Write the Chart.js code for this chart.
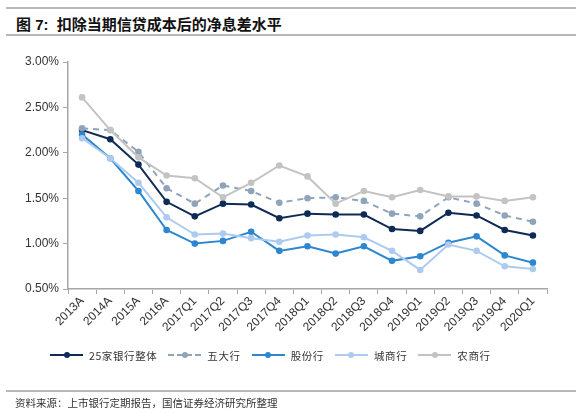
<!DOCTYPE html>
<html>
<head>
<meta charset="utf-8">
<script src="https://cdn.jsdelivr.net/npm/chart.js@4/dist/chart.umd.min.js"></script>
<style>
  html, body { margin: 0; padding: 0; background: #fff; }
  body { width: 581px; height: 413px; position: relative; overflow: hidden;
         font-family: "Liberation Sans", Arial, "Noto Sans CJK SC", sans-serif; color: #222; }
  .rule { position: absolute; left: 6px; width: 570px; height: 2px; background: #b8b8b8; }
  #title { position: absolute; left: 16px; top: 13px; font-size: 15px; font-weight: bold;
           font-family: "Liberation Sans", "Noto Sans CJK SC", sans-serif; color: #111; white-space: nowrap; }
  #wrap { position: absolute; left: 0; top: 0; width: 581px; height: 413px; }
  #legend { position: absolute; left: 50px; top: 346px; height: 18px; display: flex; align-items: center;
            font-family: "Noto Sans CJK SC", sans-serif; font-size: 10.5px; color: #333; white-space: nowrap; }
  .item { display: flex; align-items: center; margin-right: 11px; }
  .mark { position: relative; width: 33px; height: 10px; margin-right: 6px; }
  .mark .ln { position: absolute; left: 0; right: 0; top: 4px; height: 0; border-top-width: 2px; }
  .mark .dot { position: absolute; left: 13.5px; top: 2px; width: 6px; height: 6px; border-radius: 50%; }
  .item span { letter-spacing: 0.6px; }
  #source { position: absolute; left: 15px; top: 395px; font-size: 10.5px; color: #333;
            font-family: "Noto Sans CJK SC", sans-serif; white-space: nowrap; }
</style>
</head>
<body>
<div class="rule" style="top:7px"></div>
<div id="title">图 7:&nbsp; 扣除当期信贷成本后的净息差水平</div>
<div class="rule" style="top:34px"></div>
<div id="wrap"><canvas id="c" width="581" height="413"></canvas></div>
<div id="legend"></div>
<div class="rule" style="top:390px; height:1.5px"></div>
<div id="source">资料来源：上市银行定期报告，国信证券经济研究所整理</div>
<script>
// categories and series (percent)
const categories = ['2013A','2014A','2015A','2016A','2017Q1','2017Q2','2017Q3','2017Q4',
  '2018Q1','2018Q2','2018Q3','2018Q4','2019Q1','2019Q2','2019Q3','2019Q4','2020Q1'];

const allBanks   = [2.25, 2.15, 1.87, 1.46, 1.30, 1.44, 1.43, 1.28, 1.33, 1.32, 1.32, 1.16, 1.14, 1.34, 1.31, 1.15, 1.09];
const bigFive    = [2.27, 2.25, 2.01, 1.61, 1.44, 1.64, 1.58, 1.45, 1.50, 1.51, 1.47, 1.33, 1.30, 1.51, 1.44, 1.31, 1.24];
const jointStock = [2.20, 1.94, 1.58, 1.15, 1.00, 1.03, 1.13, 0.92, 0.97, 0.89, 0.97, 0.81, 0.86, 1.01, 1.08, 0.87, 0.79];
const cityBanks  = [2.16, 1.94, 1.67, 1.29, 1.10, 1.11, 1.06, 1.02, 1.09, 1.10, 1.07, 0.92, 0.71, 0.99, 0.92, 0.75, 0.72];
const ruralBanks = [2.61, 2.25, 1.95, 1.75, 1.72, 1.51, 1.67, 1.86, 1.74, 1.44, 1.58, 1.51, 1.59, 1.52, 1.52, 1.47, 1.51];

const yTicks = [0.5, 1.0, 1.5, 2.0, 2.5, 3.0];

const SERIES = [
  { label: '25家银行整体', data: allBanks,   color: '#0d2b55', dash: [] },
  { label: '五大行',       data: bigFive,    color: '#8fa4b9', dash: [6, 5] },
  { label: '股份行',       data: jointStock, color: '#2d87d0', dash: [] },
  { label: '城商行',       data: cityBanks,  color: '#adcbee', dash: [] },
  { label: '农商行',       data: ruralBanks, color: '#c3c3c3', dash: [] }
];

const TICK_FONT = { family: "'Liberation Sans', Arial, sans-serif", size: 12 };
const AXIS = '#a6a6a6';

// html legend
const legend = document.getElementById('legend');
SERIES.forEach(s => {
  const item = document.createElement('div');
  item.className = 'item';
  const style = s.dash.length ? 'dashed' : 'solid';
  item.innerHTML = '<div class="mark"><div class="ln" style="border-top-style:' + style +
    ';border-color:' + s.color + '"></div><div class="dot" style="background:' + s.color +
    '"></div></div><span>' + s.label + '</span>';
  legend.appendChild(item);
});

new Chart(document.getElementById('c'), {
  type: 'line',
  data: {
    labels: categories,
    datasets: SERIES.map(s => ({
      label: s.label,
      data: s.data,
      borderColor: s.color,
      backgroundColor: s.color,
      pointBackgroundColor: s.color,
      pointBorderColor: s.color,
      borderDash: s.dash,
      borderWidth: 2,
      pointRadius: 3.3,
      pointBorderWidth: 0,
      tension: 0,
      fill: false
    })).reverse()
  },
  options: {
    responsive: false,
    animation: false,
    devicePixelRatio: 1,
    layout: { padding: { left: 0, right: 34, top: 62, bottom: 79 } },
    plugins: { legend: { display: false }, tooltip: { enabled: false } },
    scales: {
      x: {
        offset: true,
        grid: { offset: true, drawOnChartArea: false, drawTicks: true, tickLength: 5, color: AXIS },
        border: { display: true, color: AXIS, width: 1.5 },
        ticks: { font: TICK_FONT, color: '#333', minRotation: 45, maxRotation: 45, autoSkip: false, padding: 0 },
        afterFit(scale) { scale.height = 45; }
      },
      y: {
        min: 0.5, max: 3.0,
        afterBuildTicks(scale) { scale.ticks = yTicks.map(v => ({ value: v })); },
        grid: { drawOnChartArea: false, drawTicks: true, tickLength: 5, color: AXIS },
        border: { display: true, color: AXIS, width: 1.5 },
        ticks: { font: TICK_FONT, color: '#333', padding: 4, callback: v => v.toFixed(2) + '%' },
        afterFit(scale) { scale.width = 68; }
      }
    }
  }
});
</script>
</body>
</html>
